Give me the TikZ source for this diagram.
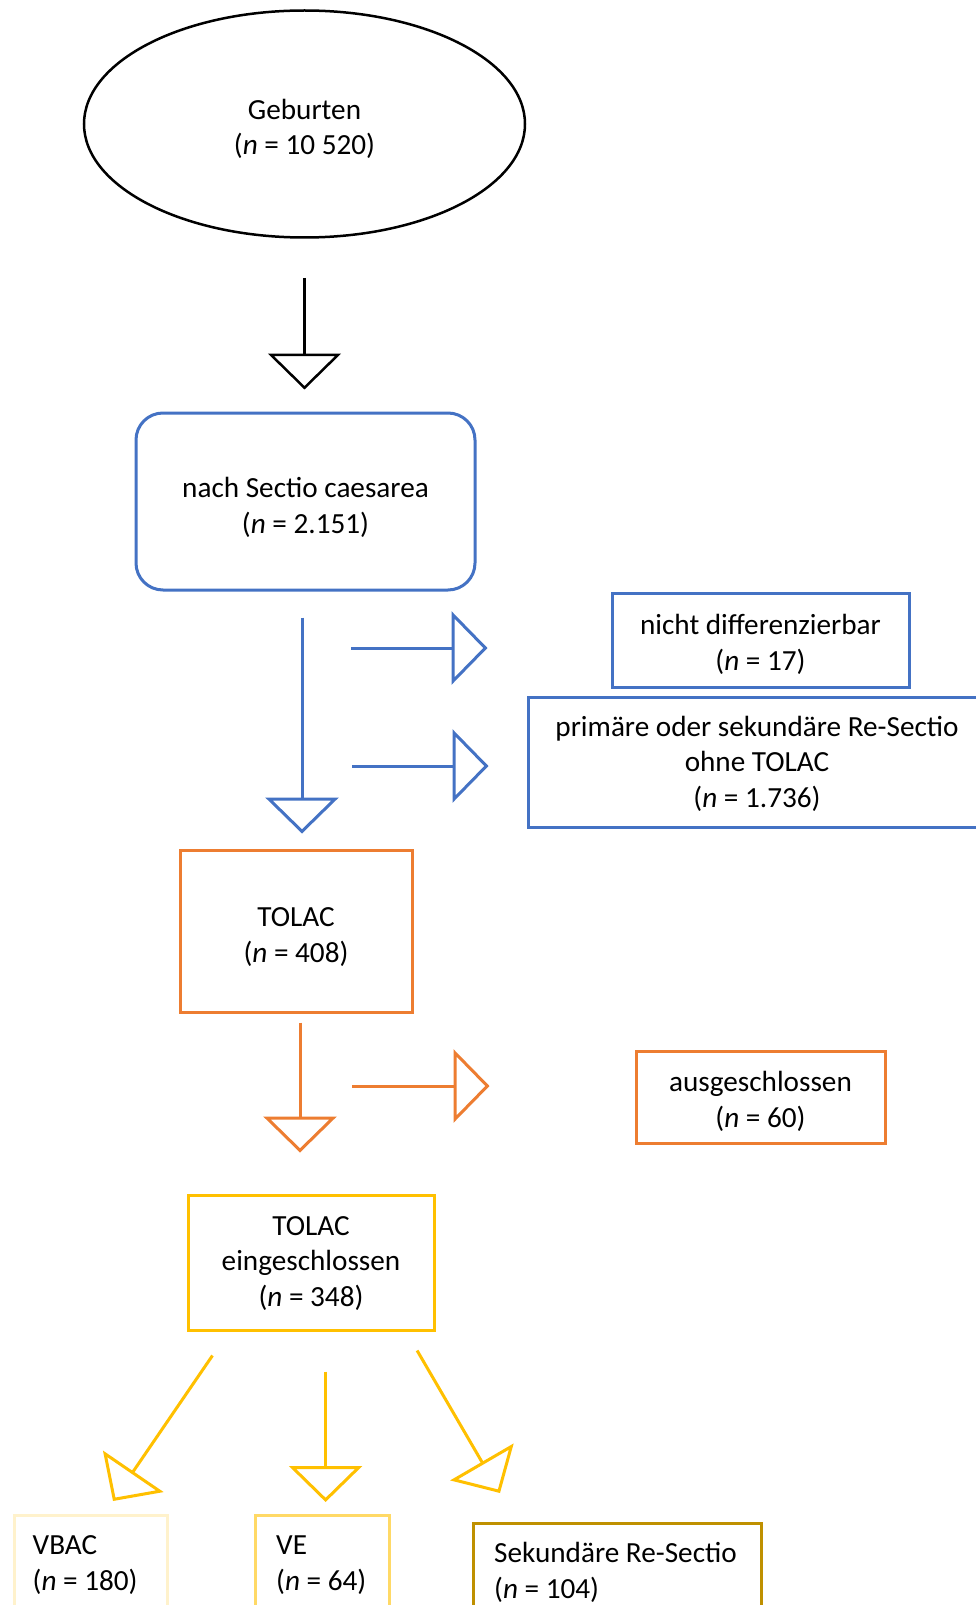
\documentclass[tikz,border=0pt]{standalone}
\usepackage{fontspec}
\setmainfont{Carlito}
\usetikzlibrary{arrows.meta,shapes.geometric,calc}
\definecolor{cblue}{HTML}{4472C4}
\definecolor{corange}{HTML}{ED7D31}
\definecolor{cyellow}{HTML}{FFC000}
\definecolor{cpale}{HTML}{FFF2CC}
\definecolor{clight}{HTML}{FFD966}
\definecolor{cgold}{HTML}{BF9000}
\newcommand{\fsz}{\fontsize{29.2}{35.5}\selectfont}
\newcommand{\lift}[1]{\rule{0pt}{#1}}
\begin{document}
\begin{tikzpicture}[x=1pt,y=-1pt,
  every node/.style={font=\fsz, inner sep=0pt},
  box/.style={draw, rectangle, line width=3pt, align=center},
  arr/.style={line width=3pt, -{Triangle[open,length=36pt,width=73pt]}}]
\useasboundingbox (0,0) rectangle (976,1605);
\fill[white] (0,0) rectangle (976,1605);

\node[draw, ellipse, line width=2.5pt, minimum width=441pt, minimum height=227pt, align=center] (geb) at (304.5,124) {\lift{30pt}Geburten\\(\textit{n} = 10 520)};
\node[box, draw=cblue, rounded corners=27pt, minimum width=339pt, minimum height=177pt] (sc) at (305.5,501.5) {\lift{32pt}nach Sectio caesarea\\(\textit{n} = 2.151)};
\node[box, draw=cblue, minimum width=297pt, minimum height=94pt] (nd) at (760.5,640) {\lift{29pt}nicht differenzierbar\\(\textit{n} = 17)};
\node[box, draw=cblue, minimum width=458pt, minimum height=130pt] (prim) at (757,762) {\lift{24pt}primäre oder sekundäre Re-Sectio\\ohne TOLAC\\(\textit{n} = 1.736)};
\node[box, draw=corange, minimum width=232pt, minimum height=162pt] (tolac) at (296,931) {\lift{31pt}TOLAC\\(\textit{n} = 408)};
\node[box, draw=corange, minimum width=249pt, minimum height=92pt] (aus) at (760.5,1097) {\lift{29pt}ausgeschlossen\\(\textit{n} = 60)};
\node[box, draw=cyellow, minimum width=246pt, minimum height=135pt] (tein) at (311,1262.5) {\lift{21pt}TOLAC\\eingeschlossen\\(\textit{n} = 348)};

\node[draw=cpale, line width=3pt, minimum width=153pt, minimum height=110pt, anchor=north west] (vbac) at (12.5,1514) {};
\node[anchor=west, align=left] (vbact) at (32.5,1565) {VBAC\\(\textit{n} = 180)};
\node[draw=clight, line width=3pt, minimum width=134pt, minimum height=110pt, anchor=north west] (ve) at (254,1514) {};
\node[anchor=west, align=left] (vet) at (276,1565) {VE\\(\textit{n} = 64)};
\node[draw=cgold, line width=3pt, minimum width=288pt, minimum height=110pt, anchor=north west] (sek) at (472,1522) {};
\node[anchor=west, align=left] (sekt) at (494,1572.5) {Sekundäre Re-Sectio\\(\textit{n} = 104)};

% black arrow
\draw[arr, line width=2.5pt, shorten <=39pt, shorten >=22pt] (geb.south) -- (geb.south |- sc.north);
% blue arrows
\draw[arr, draw=cblue, shorten <=26pt, shorten >=15pt] ([shift={(-3.5,0)}]sc.south) -- ([shift={(-3.5,0)}]sc.south |- tolac.north);
\coordinate (b1) at (351,648);
\coordinate (b2) at (352,766);
\draw[arr, draw=cblue, shorten >=123pt] (b1) -- (b1 -| nd.west);
\draw[arr, draw=cblue, shorten >=38pt] (b2) -- (b2 -| prim.west);
% orange arrows
\draw[arr, draw=corange, shorten <=9pt, shorten >=41pt] ([shift={(4,0)}]tolac.south) -- ([shift={(4,0)}]tolac.south |- tein.north);
\coordinate (o1) at (352,1086);
\draw[arr, draw=corange, shorten >=145pt] (o1) -- (o1 -| aus.west);
% yellow arrows
\draw[arr, draw=cyellow, shorten <=40pt, shorten >=12pt] ([shift={(14.6,0)}]tein.south) -- ([shift={(14.6,0)}]tein.south |- ve.north);
\draw[arr, draw=cyellow] ([shift={(26,24)}]tein.south west) -- ([shift={(100.5,-13)}]vbac.north west);
\draw[arr, draw=cyellow] ([shift={(-18.4,19)}]tein.south east) -- ([shift={(28,-29)}]sek.north west);
\end{tikzpicture}
\end{document}
